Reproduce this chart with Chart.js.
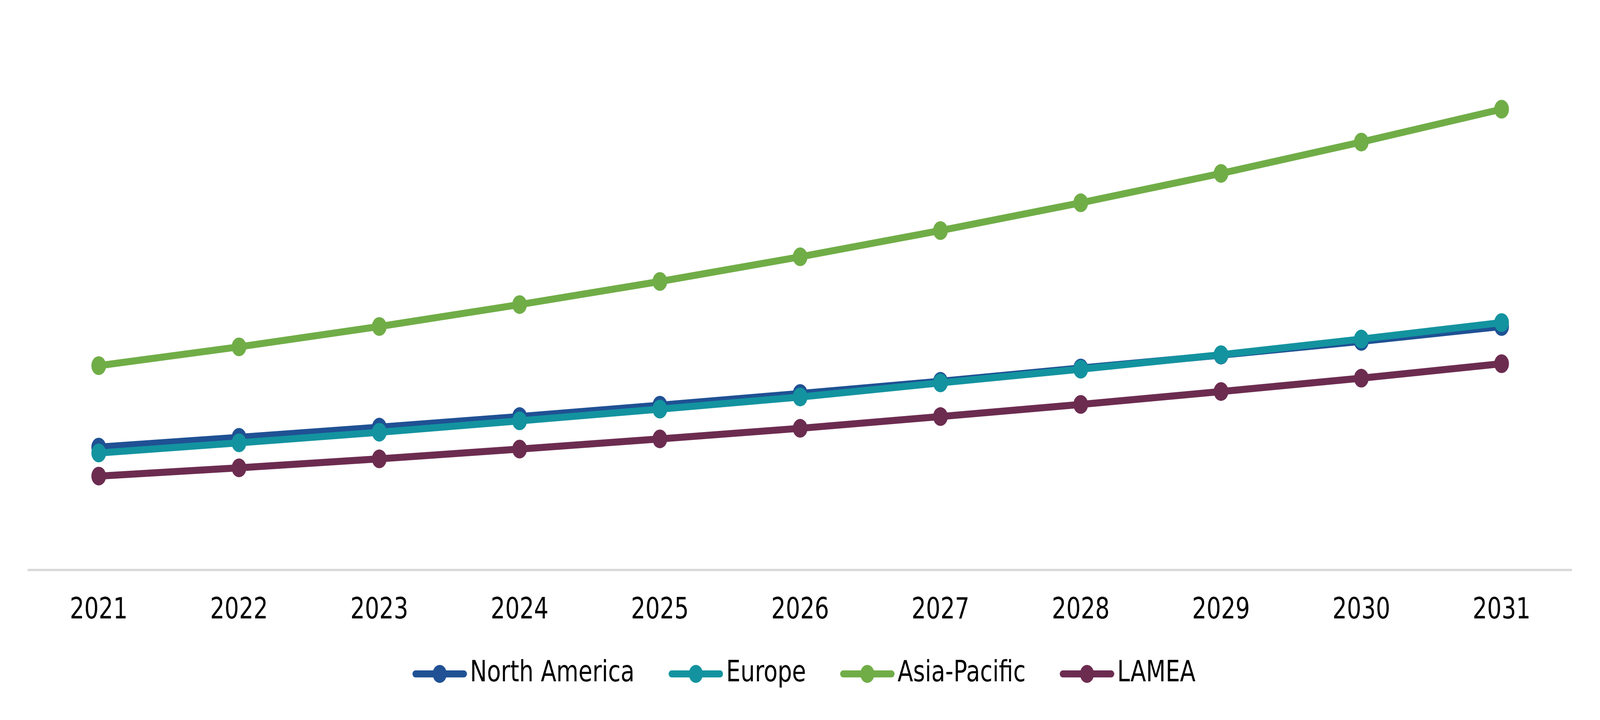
<!DOCTYPE html>
<html>
<head>
<meta charset="utf-8">
<script src="https://cdn.jsdelivr.net/npm/chart.js@4.4.1/dist/chart.umd.min.js"></script>
<style>
  html, body { margin: 0; padding: 0; background: #ffffff; overflow: hidden; }
  #chart { position: fixed; left: 0; top: 0; width: 100vw; height: 100vh; display: block; }
</style>
</head>
<body>
<canvas id="chart" width="5208" height="1843" style="width:100vw;height:100vh"></canvas>
<script>
const years = ['2021', '2022', '2023', '2024', '2025', '2026', '2027', '2028', '2029', '2030', '2031'];

const northAmerica = [3.14, 3.39, 3.65, 3.92, 4.21, 4.51, 4.82, 5.16, 5.49, 5.84, 6.22];
const europe = [2.99, 3.25, 3.52, 3.81, 4.11, 4.42, 4.78, 5.13, 5.50, 5.90, 6.32];
const asiaPacific = [5.22, 5.70, 6.22, 6.78, 7.37, 8.00, 8.67, 9.38, 10.13, 10.93, 11.77];
const lamea = [2.40, 2.61, 2.84, 3.09, 3.35, 3.62, 3.92, 4.23, 4.56, 4.90, 5.27];

const regionNames = ['North America', 'Europe', 'Asia-Pacific', 'LAMEA'];
const regionColors = ['#1F5194', '#13939F', '#70AD47', '#6C2C50'];

const FONT = 'DejaVu Sans';

// legend marker: a short line with a dot, left part of the image is just spacing
const makeMarker = (color) => {
    const c = document.createElement('canvas');
    c.width = 295;
    c.height = 52;
    const g = c.getContext('2d');
    g.strokeStyle = color;
    g.lineWidth = 18;
    g.lineCap = 'round';
    g.beginPath();
    g.moveTo(127, 26);
    g.lineTo(286, 26);
    g.stroke();
    g.fillStyle = color;
    g.beginPath();
    g.arc(206.5, 26, 23, 0, Math.PI * 2);
    g.fill();
    return c;
};

const markers = regionColors.map(makeMarker);

const seriesValues = [northAmerica, europe, asiaPacific, lamea];

const datasets = seriesValues.map((values, i) => ({
    label: regionNames[i],
    data: values,
    borderColor: regionColors[i],
    backgroundColor: regionColors[i],
    pointBackgroundColor: regionColors[i],
    pointBorderWidth: 0,
    pointRadius: 24,
    borderWidth: 18,
    tension: 0,
    fill: false,
    order: i === 1 ? 0 : 1, // Europe sits on top of North America
}));

// the marker image has blank space on its left, so nudge the legend row back
const legendShift = {
    id: 'legendShift',
    afterLayout(chart) {
        if (chart.legend) {
            chart.legend.left -= 33;
            chart.legend.right -= 33;
        }
    },
};

const ctx = document.getElementById('chart').getContext('2d');

new Chart(ctx, {
    type: 'line',
    data: {
        labels: years,
        datasets: datasets,
    },
    plugins: [legendShift],
    options: {
        responsive: false,
        devicePixelRatio: 1,
        animation: false,
        layout: {
            padding: { left: 93, right: 92, top: 56, bottom: 71 },
        },
        plugins: {
            tooltip: { enabled: false },
            legend: {
                position: 'bottom',
                labels: {
                    usePointStyle: true,
                    pointStyleWidth: 241,
                    padding: 20,
                    color: '#000000',
                    font: { family: FONT, size: 74 },
                    generateLabels: (chart) => chart.data.datasets.map((ds, i) => ({
                        text: ds.label,
                        pointStyle: markers[i],
                        fillStyle: ds.borderColor,
                        strokeStyle: ds.borderColor,
                        lineWidth: 0,
                        hidden: false,
                        datasetIndex: i,
                    })),
                },
            },
        },
        scales: {
            x: {
                offset: true,
                grid: { display: false, drawTicks: false },
                border: { display: true, color: '#D9D9D9', width: 6 },
                ticks: {
                    color: '#000000',
                    padding: 60,
                    font: { family: FONT, size: 74 },
                },
            },
            y: {
                display: false,
                min: 0,
                max: 14,
            },
        },
    },
});
</script>
</body>
</html>
